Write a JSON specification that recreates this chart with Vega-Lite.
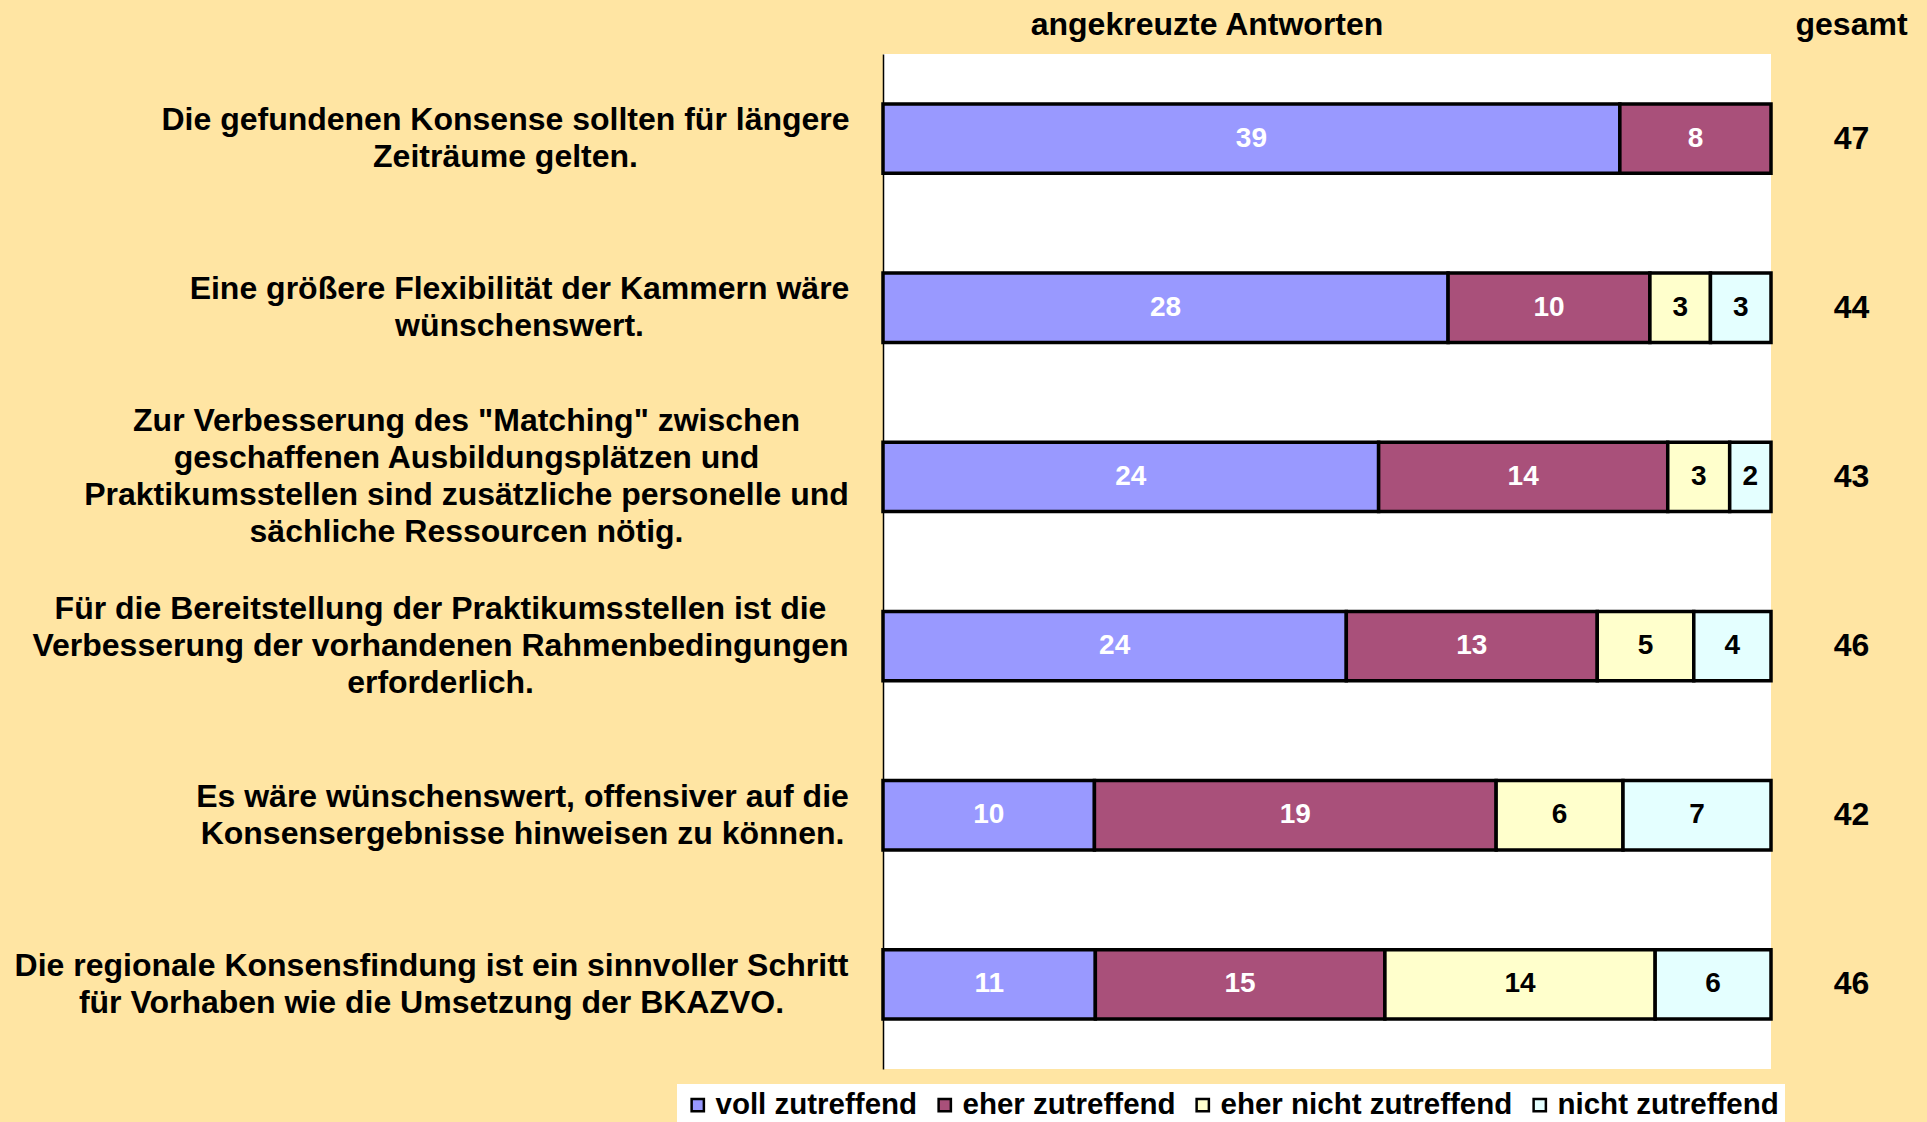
{
  "$schema": "https://vega.github.io/schema/vega-lite/v6.json",
  "background": "#FFE5A3",
  "padding": {"left": 14, "top": 8, "right": 0, "bottom": 0},
  "spacing": 0,
  "config": {
    "font": "Liberation Sans",
    "concat": {"spacing": 0}
  },
  "data": {
    "values": [
      {"s": "Die gefundenen Konsense sollten für längere\nZeiträume gelten.", "cat": "voll zutreffend", "rank": 1, "n": 39},
      {"s": "Die gefundenen Konsense sollten für längere\nZeiträume gelten.", "cat": "eher zutreffend", "rank": 2, "n": 8},
      {"s": "Eine größere Flexibilität der Kammern wäre\nwünschenswert.", "cat": "voll zutreffend", "rank": 1, "n": 28},
      {"s": "Eine größere Flexibilität der Kammern wäre\nwünschenswert.", "cat": "eher zutreffend", "rank": 2, "n": 10},
      {"s": "Eine größere Flexibilität der Kammern wäre\nwünschenswert.", "cat": "eher nicht zutreffend", "rank": 3, "n": 3},
      {"s": "Eine größere Flexibilität der Kammern wäre\nwünschenswert.", "cat": "nicht zutreffend", "rank": 4, "n": 3},
      {"s": "Zur Verbesserung des \"Matching\" zwischen\ngeschaffenen Ausbildungsplätzen und\nPraktikumsstellen sind zusätzliche personelle und\nsächliche Ressourcen nötig.", "cat": "voll zutreffend", "rank": 1, "n": 24},
      {"s": "Zur Verbesserung des \"Matching\" zwischen\ngeschaffenen Ausbildungsplätzen und\nPraktikumsstellen sind zusätzliche personelle und\nsächliche Ressourcen nötig.", "cat": "eher zutreffend", "rank": 2, "n": 14},
      {"s": "Zur Verbesserung des \"Matching\" zwischen\ngeschaffenen Ausbildungsplätzen und\nPraktikumsstellen sind zusätzliche personelle und\nsächliche Ressourcen nötig.", "cat": "eher nicht zutreffend", "rank": 3, "n": 3},
      {"s": "Zur Verbesserung des \"Matching\" zwischen\ngeschaffenen Ausbildungsplätzen und\nPraktikumsstellen sind zusätzliche personelle und\nsächliche Ressourcen nötig.", "cat": "nicht zutreffend", "rank": 4, "n": 2},
      {"s": "Für die Bereitstellung der Praktikumsstellen ist die\nVerbesserung der vorhandenen Rahmenbedingungen\nerforderlich.", "cat": "voll zutreffend", "rank": 1, "n": 24},
      {"s": "Für die Bereitstellung der Praktikumsstellen ist die\nVerbesserung der vorhandenen Rahmenbedingungen\nerforderlich.", "cat": "eher zutreffend", "rank": 2, "n": 13},
      {"s": "Für die Bereitstellung der Praktikumsstellen ist die\nVerbesserung der vorhandenen Rahmenbedingungen\nerforderlich.", "cat": "eher nicht zutreffend", "rank": 3, "n": 5},
      {"s": "Für die Bereitstellung der Praktikumsstellen ist die\nVerbesserung der vorhandenen Rahmenbedingungen\nerforderlich.", "cat": "nicht zutreffend", "rank": 4, "n": 4},
      {"s": "Es wäre wünschenswert, offensiver auf die\nKonsensergebnisse hinweisen zu können.", "cat": "voll zutreffend", "rank": 1, "n": 10},
      {"s": "Es wäre wünschenswert, offensiver auf die\nKonsensergebnisse hinweisen zu können.", "cat": "eher zutreffend", "rank": 2, "n": 19},
      {"s": "Es wäre wünschenswert, offensiver auf die\nKonsensergebnisse hinweisen zu können.", "cat": "eher nicht zutreffend", "rank": 3, "n": 6},
      {"s": "Es wäre wünschenswert, offensiver auf die\nKonsensergebnisse hinweisen zu können.", "cat": "nicht zutreffend", "rank": 4, "n": 7},
      {"s": "Die regionale Konsensfindung ist ein sinnvoller Schritt\nfür Vorhaben wie die Umsetzung der BKAZVO.", "cat": "voll zutreffend", "rank": 1, "n": 11},
      {"s": "Die regionale Konsensfindung ist ein sinnvoller Schritt\nfür Vorhaben wie die Umsetzung der BKAZVO.", "cat": "eher zutreffend", "rank": 2, "n": 15},
      {"s": "Die regionale Konsensfindung ist ein sinnvoller Schritt\nfür Vorhaben wie die Umsetzung der BKAZVO.", "cat": "eher nicht zutreffend", "rank": 3, "n": 14},
      {"s": "Die regionale Konsensfindung ist ein sinnvoller Schritt\nfür Vorhaben wie die Umsetzung der BKAZVO.", "cat": "nicht zutreffend", "rank": 4, "n": 6}
    ]
  },
  "hconcat": [
    {
      "width": 888,
      "height": 1015,
      "view": {"fill": "white", "stroke": null},
      "title": {"text": "angekreuzte Antworten", "fontSize": 32, "fontWeight": "bold", "color": "black", "dx": -120, "offset": 12.5},
      "transform": [
        {"stack": "n", "groupby": ["s"], "sort": [{"field": "rank"}], "offset": "normalize", "as": ["v0", "v1"]},
        {"calculate": "(datum.v0 + datum.v1) / 2", "as": "mid"}
      ],
      "encoding": {
        "y": {
          "field": "s", "type": "nominal", "sort": null, "title": null,
          "scale": {"paddingInner": 0.59, "paddingOuter": 0.295},
          "axis": {
            "labelExpr": "split(datum.label, '\\n')",
            "labelFontSize": 32, "labelFontWeight": "bold", "labelColor": "black",
            "labelLineHeight": 37, "labelLimit": 1000,
            "labelAlign": "center",
            "labelOffset": {"expr": "-(length(split(datum.value, '\\n')) - 1) * 18.5"},
            "labelPadding": {"expr": "slice(datum.value,0,5)=='Die g' ? 378 : slice(datum.value,0,5)=='Eine ' ? 364 : slice(datum.value,0,5)=='Zur V' ? 417 : slice(datum.value,0,5)=='Für d' ? 443 : slice(datum.value,0,5)=='Es wä' ? 361 : 452"},
            "ticks": false, "domainColor": "black", "domainWidth": 1.5,
            "minExtent": 860, "maxExtent": 860
          }
        }
      },
      "layer": [
        {
          "mark": {"type": "bar", "stroke": "black", "strokeWidth": 3.5},
          "encoding": {
            "x": {"field": "v0", "type": "quantitative", "axis": null, "scale": {"domain": [0, 1], "nice": false}},
            "x2": {"field": "v1"},
            "color": {
              "field": "cat", "type": "nominal",
              "scale": {
                "domain": ["voll zutreffend", "eher zutreffend", "eher nicht zutreffend", "nicht zutreffend"],
                "range": ["#9999FF", "#A9507A", "#FFFFCC", "#E4FFFF"]
              },
              "legend": {
                "title": null, "orient": "none", "direction": "horizontal",
                "legendX": -206, "legendY": 1030,
                "fillColor": "white", "padding": 6,
                "symbolType": "square", "symbolSize": 150, "symbolStrokeColor": "black", "symbolStrokeWidth": 2.5, "symbolOpacity": 1,
                "labelFontSize": 29.5, "labelFontWeight": "bold", "labelColor": "black", "labelLimit": 400,
                "columnPadding": 12, "labelOffset": 3
              }
            }
          }
        },
        {
          "mark": {"type": "text", "fontSize": 28, "fontWeight": "bold"},
          "encoding": {
            "x": {"field": "mid", "type": "quantitative"},
            "text": {"field": "n", "type": "quantitative"},
            "color": {
              "condition": {"test": "datum.rank <= 2", "value": "white"},
              "value": "black"
            }
          }
        }
      ]
    },
    {
      "width": 157,
      "height": 1015,
      "view": {"stroke": null},
      "title": {"text": "gesamt", "fontSize": 32, "fontWeight": "bold", "color": "black", "offset": 12.5},
      "transform": [
        {"aggregate": [{"op": "sum", "field": "n", "as": "total"}], "groupby": ["s"]}
      ],
      "mark": {"type": "text", "fontSize": 32, "fontWeight": "bold", "color": "black"},
      "encoding": {
        "y": {"field": "s", "type": "nominal", "sort": null, "axis": null, "scale": {"paddingInner": 0.59, "paddingOuter": 0.295}},
        "text": {"field": "total", "type": "quantitative"}
      }
    }
  ],
  "resolve": {"scale": {"y": "independent"}}
}
